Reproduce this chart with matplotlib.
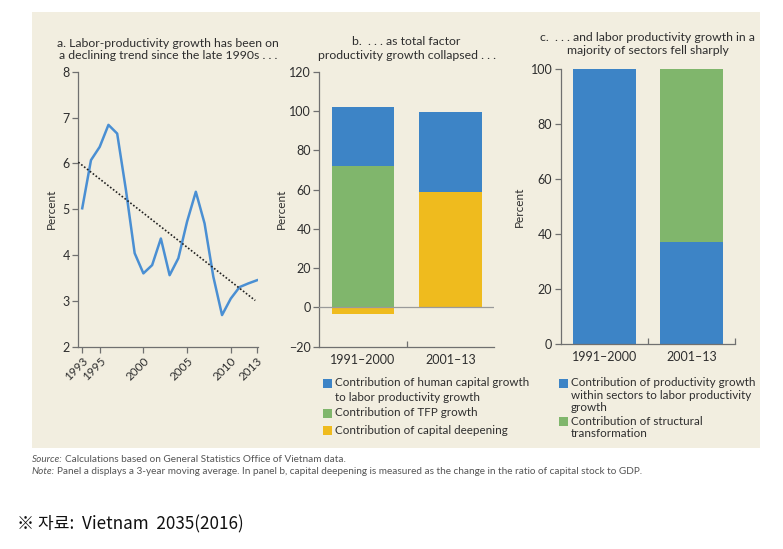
import numpy as np
import matplotlib
matplotlib.use("Agg")
import matplotlib.pyplot as plt
from matplotlib.patches import Rectangle

plt.rcParams['font.family'] = ['Lato', 'DejaVu Sans']

# ---------------- data ----------------
years = list(range(1993, 2014))
lp_growth = [5.02, 6.07, 6.36, 6.84, 6.65, 5.42, 4.04, 3.60, 3.78, 4.36, 3.56,
             3.93, 4.73, 5.38, 4.69, 3.53, 2.69, 3.05, 3.30, 3.38, 3.45]
year_ticks = [1993, 1995, 2000, 2005, 2010, 2013]

periods = ["1991\u20132000", "2001\u201313"]
b_human_capital = [30.0, 40.7]
b_tfp = [72.0, 0.0]
b_capital = [-3.4, 58.6]

c_within = [100.0, 37.3]
c_structural = [0.0, 62.7]

b_labels = ["Contribution of human capital growth\nto labor productivity growth",
            "Contribution of TFP growth",
            "Contribution of capital deepening"]
c_labels = ["Contribution of productivity growth\nwithin sectors to labor productivity\ngrowth",
            "Contribution of structural\ntransformation"]

BLUE = "#3d84c6"
GREEN = "#80b66c"
YELLOW = "#efbb1e"
LINE = "#4a8fd3"
BG = "#f2eee0"
SPINE = "#707070"
TXT = "#2e2e2e"

W, H = 783, 549
fig = plt.figure(figsize=(W / 100, H / 100), dpi=100)
fig.patch.set_facecolor("white")

def fx(px):
    return px / W

def fy(py):
    return 1 - py / H

# beige panel background
fig.patches.append(Rectangle((fx(32), fy(448)), fx(760) - fx(32), fy(12) - fy(448),
                             transform=fig.transFigure, facecolor=BG, edgecolor="none", zorder=-5))

TL = 9  # tick label size

def style_ax(ax):
    ax.set_facecolor("none")
    ax.set_zorder(2)
    for s in ["top", "right"]:
        ax.spines[s].set_visible(False)
    for s in ["left", "bottom"]:
        ax.spines[s].set_color(SPINE)
        ax.spines[s].set_linewidth(0.9)
    ax.tick_params(axis="both", colors=SPINE, labelcolor=TXT, labelsize=TL, width=0.9)
    ax.tick_params(axis="y", length=4, direction="out", pad=2)

TS = 8.8  # title size

# ---------------- panel a ----------------
axa = fig.add_axes([fx(78.3), fy(346.7), fx(258.3) - fx(78.3), fy(71.7) - fy(346.7)])
style_ax(axa)
axa.plot(years, lp_growth, color=LINE, lw=1.8, zorder=3)
xs = np.array(years, dtype=float)
coef = np.polyfit(xs, lp_growth, 1)
xt = np.array([1992.55, 2012.8])
axa.plot(xt, np.polyval(coef, xt), color="#222222", lw=1.2, ls=(0, (1, 1.2)), zorder=4)
axa.set_xlim(1992.55, 2013.15)
axa.set_ylim(2, 8)
axa.set_yticks(range(2, 9))
axa.set_xticks(year_ticks)
axa.set_xticklabels([str(y) for y in year_ticks], rotation=45, ha="right",
                    rotation_mode="anchor")
axa.tick_params(axis="x", length=4, direction="out", pad=2, labelsize=8.5)
axa.set_ylabel("Percent", fontsize=8.5, color=TXT, labelpad=4)
axa.set_title("a. Labor-productivity growth has been on\na declining trend since the late 1990s . . .",
              fontsize=TS, color=TXT, pad=9, linespacing=1.15)

# ---------------- panel b ----------------
axb = fig.add_axes([fx(319.3), fy(346.7), fx(494) - fx(319.3), fy(71.7) - fy(346.7)])
style_ax(axb)
xb = np.arange(len(periods))
bw = 0.72
cap = np.array(b_capital)
tfp = np.array(b_tfp)
hum = np.array(b_human_capital)
cap_pos = np.where(cap > 0, cap, 0)
axb.bar(xb, cap, bw, color=YELLOW, zorder=2)
axb.bar(xb, tfp, bw, bottom=cap_pos, color=GREEN, zorder=2)
axb.bar(xb, hum, bw, bottom=cap_pos + tfp, color=BLUE, zorder=2)
axb.axhline(0, color="#9a9a9a", lw=0.9, zorder=3)
axb.set_xlim(-0.5, 1.5)
axb.set_ylim(-20, 120)
axb.set_yticks(range(-20, 121, 20))
axb.set_xticks([0.5])
axb.set_xticklabels([""])
axb.set_xticks(xb, minor=True)
axb.set_xticklabels(periods, minor=True)
axb.tick_params(axis="x", which="major", length=4, direction="in")
axb.tick_params(axis="x", which="minor", length=0, pad=5, labelsize=TL, labelcolor=TXT)
axb.set_ylabel("Percent", fontsize=8.5, color=TXT, labelpad=2)
axb.set_title("b.  . . . as total factor\nproductivity growth collapsed . . .",
              fontsize=TS, color=TXT, pad=9, linespacing=1.35)

# ---------------- panel c ----------------
axc = fig.add_axes([fx(560.7), fy(344.3), fx(735) - fx(560.7), fy(69) - fy(344.3)])
style_ax(axc)
xc = np.arange(len(periods))
axc.bar(xc, c_within, bw, color=BLUE, zorder=2)
axc.bar(xc, c_structural, bw, bottom=c_within, color=GREEN, zorder=2)
axc.set_xlim(-0.5, 1.5)
axc.set_ylim(0, 100)
axc.set_yticks(range(0, 101, 20))
axc.set_xticks([0.5, 1.5])
axc.set_xticklabels(["", ""])
axc.set_xticks(xc, minor=True)
axc.set_xticklabels(periods, minor=True)
axc.tick_params(axis="x", which="major", length=4, direction="in")
axc.tick_params(axis="x", which="minor", length=0, pad=5, labelsize=TL, labelcolor=TXT)
axc.set_ylabel("Percent", fontsize=8.5, color=TXT, labelpad=4)
axc.set_title("c.  . . . and labor productivity growth in a\nmajority of sectors fell sharply",
              fontsize=TS, color=TXT, pad=11, linespacing=1.15)

# ---------------- legends (manual) ----------------
LS = 8.4
def legend_block(x_sq, x_txt, y_tops, colors, labels, line_h):
    for yt, col, lab in zip(y_tops, colors, labels):
        fig.patches.append(Rectangle((fx(x_sq), fy(yt + 4.5)), 9 / W, 9 / H,
                                     transform=fig.transFigure, facecolor=col,
                                     edgecolor="none", zorder=2))
        fig.text(fx(x_txt), fy(yt - 6), lab, fontsize=LS, color=TXT, va="top", ha="left",
                 linespacing=line_h)

legend_block(323, 335, [383.3, 413.3, 430.7], [BLUE, GREEN, YELLOW], b_labels, 1.45)
legend_block(559, 571, [383.3, 421.7], [BLUE, GREEN], c_labels, 1.15)

# ---------------- source / note ----------------
NS = 7.2
t1 = fig.text(fx(32), fy(459), "Source:", fontsize=NS, color="#555555", style="italic",
              va="center", ha="left")
fig.canvas.draw()
r = fig.canvas.get_renderer()
bb = t1.get_window_extent(r)
fig.text(bb.x1 / W + 2 / W, fy(459), "Calculations based on General Statistics Office of Vietnam data.",
         fontsize=NS, color="#555555", va="center", ha="left")
t2 = fig.text(fx(32), fy(471), "Note:", fontsize=NS, color="#555555", style="italic",
              va="center", ha="left")
bb2 = t2.get_window_extent(r)
fig.text(bb2.x1 / W + 2 / W, fy(471),
         "Panel a displays a 3-year moving average. In panel b, capital deepening is measured as the change in the ratio of capital stock to GDP.",
         fontsize=NS, color="#555555", va="center", ha="left")

fig.text(fx(17), fy(524), "\u203b 자료:  Vietnam  2035(2016)", fontsize=12.3, color="#111111",
         va="center", ha="left", family=["Noto Sans CJK KR", "DejaVu Sans"])

fig.savefig("out.png", dpi=100, facecolor="white")
